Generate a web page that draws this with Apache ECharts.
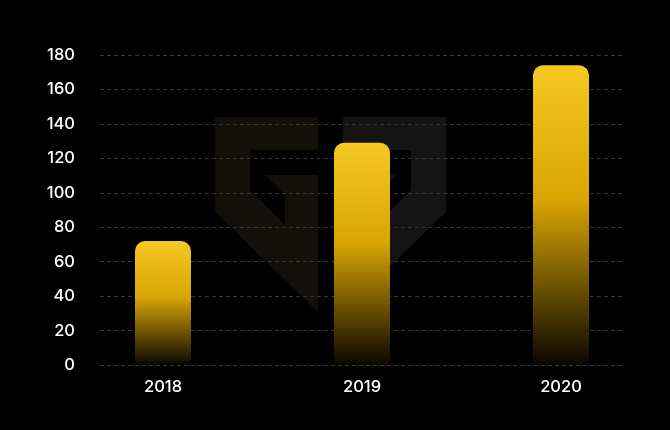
<!DOCTYPE html>
<html>
<head>
<meta charset="utf-8">
<script src="https://cdn.jsdelivr.net/npm/echarts@6/dist/echarts.min.js"></script>
<style>html,body{margin:0;padding:0;background:#000;}#c{width:670px;height:430px;}</style>
</head>
<body>
<div id="c"></div>
<script>
const categories = ['2018', '2019', '2020'];
const values = [72, 129, 174];
const yTicks = { min: 0, max: 180, interval: 20 };

const leftLogo = [[215,117],[318,117],[318,150],[250,150],[250,190],[285,225],[285,195],[265,175],[318,175],[318,312],[215,212]];
const rightLogo = leftLogo.map(p => [661 - p[0], p[1]]);

const chart = echarts.init(document.getElementById('c'), null, { renderer: 'canvas' });
const font = 'Inter, "Noto Sans", sans-serif';
chart.setOption({
  backgroundColor: '#000',
  animation: false,
  graphic: [
    { type: 'polygon', z: -10, silent: true, shape: { points: leftLogo }, style: { fill: '#13100a' } },
    { type: 'polygon', z: -10, silent: true, shape: { points: rightLogo }, style: { fill: '#141414' } }
  ],
  grid: [
    { left: 63.5, right: 9.5, top: 55, bottom: 65 },
    { left: 100, right: 48, top: 55, bottom: 65 }
  ],
  xAxis: [
    { type: 'category', gridIndex: 0, data: categories,
      axisLine: { show: false }, axisTick: { show: false },
      axisLabel: { color: '#fff', fontSize: 16.5, fontWeight: 500, fontFamily: font, margin: 14 } },
    { type: 'category', gridIndex: 1, data: categories, show: false }
  ],
  yAxis: [
    { type: 'value', gridIndex: 0, min: yTicks.min, max: yTicks.max, interval: yTicks.interval, show: false },
    { type: 'value', gridIndex: 1, min: yTicks.min, max: yTicks.max, interval: yTicks.interval,
      axisLine: { show: false }, axisTick: { show: false },
      axisLabel: { color: '#fff', fontSize: 16.5, fontWeight: 500, fontFamily: font, margin: 25, padding: [2, 0, 0, 0] },
      splitLine: { show: true, lineStyle: { color: '#363636', width: 1, type: [4, 3] } } }
  ],
  series: [{
    type: 'bar', xAxisIndex: 0, yAxisIndex: 0, data: values, barWidth: 56,
    itemStyle: {
      borderRadius: [10, 10, 6, 6],
      color: new echarts.graphic.LinearGradient(0, 0, 0, 1, [
        { offset: 0, color: '#f5c822' },
        { offset: 0.45, color: '#d9a504' },
        { offset: 1, color: '#0a0700' }
      ])
    }
  }]
});
</script>
</body>
</html>
